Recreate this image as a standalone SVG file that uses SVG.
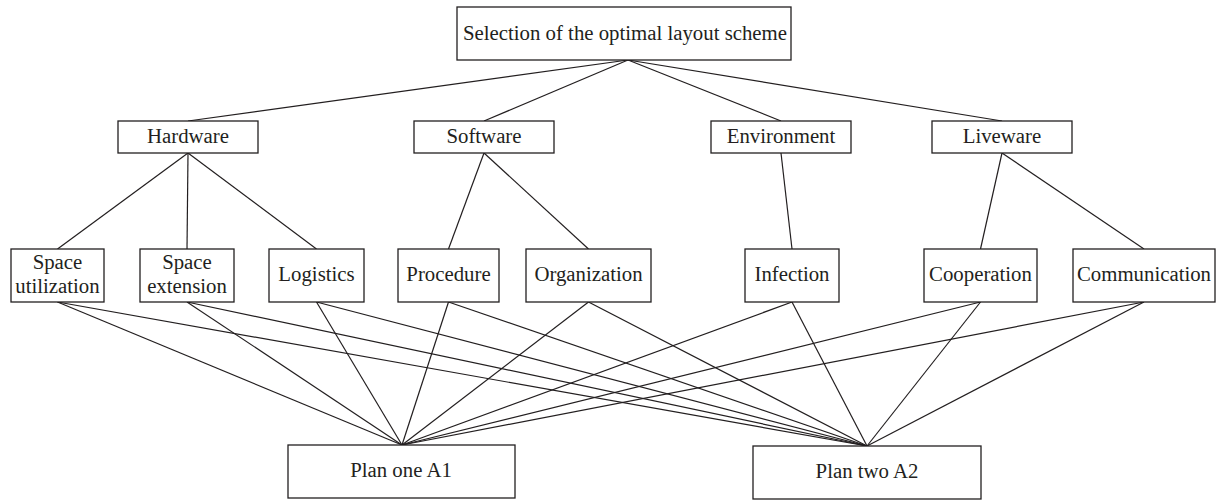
<svg xmlns="http://www.w3.org/2000/svg" width="1216" height="500" viewBox="0 0 1216 500">
<style>
.box{fill:#fff;stroke:#231f20;stroke-width:1.3}
.t{font-family:"Liberation Serif","Times New Roman",serif;font-size:20.8px;fill:#231f20;text-anchor:middle}
.c line{stroke:#231f20;stroke-width:1.2}
</style>
<rect width="1216" height="500" fill="#fff"/>
<g class="c" id="connectors">
<line x1="628" y1="60" x2="188" y2="121"/>
<line x1="628" y1="60" x2="484" y2="121"/>
<line x1="628" y1="60" x2="781" y2="121"/>
<line x1="628" y1="60" x2="1002" y2="121"/>
<line x1="188" y1="153" x2="57.5" y2="249"/>
<line x1="188" y1="153" x2="187" y2="249"/>
<line x1="188" y1="153" x2="316.5" y2="249"/>
<line x1="484" y1="153" x2="448.5" y2="249"/>
<line x1="484" y1="153" x2="588.5" y2="249"/>
<line x1="781" y1="153" x2="792" y2="249"/>
<line x1="1002" y1="153" x2="980.5" y2="249"/>
<line x1="1002" y1="153" x2="1144" y2="249"/>
<line x1="57.5" y1="302" x2="402" y2="445"/>
<line x1="57.5" y1="302" x2="867" y2="446"/>
<line x1="187" y1="302" x2="402" y2="445"/>
<line x1="187" y1="302" x2="867" y2="446"/>
<line x1="316.5" y1="302" x2="402" y2="445"/>
<line x1="316.5" y1="302" x2="867" y2="446"/>
<line x1="448.5" y1="302" x2="402" y2="445"/>
<line x1="448.5" y1="302" x2="867" y2="446"/>
<line x1="588.5" y1="302" x2="402" y2="445"/>
<line x1="588.5" y1="302" x2="867" y2="446"/>
<line x1="792" y1="302" x2="402" y2="445"/>
<line x1="792" y1="302" x2="867" y2="446"/>
<line x1="980.5" y1="302" x2="402" y2="445"/>
<line x1="980.5" y1="302" x2="867" y2="446"/>
<line x1="1144" y1="302" x2="402" y2="445"/>
<line x1="1144" y1="302" x2="867" y2="446"/>
</g>
<g id="root"><rect class="box" x="457" y="7" width="334" height="53"/><text class="t" x="625" y="40">Selection of the optimal layout scheme</text></g>
<g id="hardware"><rect class="box" x="118" y="121" width="140" height="32"/><text class="t" x="188" y="143">Hardware</text></g>
<g id="software"><rect class="box" x="414" y="121" width="140" height="32"/><text class="t" x="484" y="143">Software</text></g>
<g id="environment"><rect class="box" x="711" y="121" width="140" height="32"/><text class="t" x="781" y="143">Environment</text></g>
<g id="liveware"><rect class="box" x="932" y="121" width="140" height="32"/><text class="t" x="1002" y="143">Liveware</text></g>
<g id="space-utilization"><rect class="box" x="11" y="249" width="93" height="53"/><text class="t" x="57.5" y="269">Space</text><text class="t" x="57.5" y="293">utilization</text></g>
<g id="space-extension"><rect class="box" x="140" y="249" width="94" height="53"/><text class="t" x="187" y="269">Space</text><text class="t" x="187" y="293">extension</text></g>
<g id="logistics"><rect class="box" x="269" y="249" width="95" height="53"/><text class="t" x="316.5" y="281">Logistics</text></g>
<g id="procedure"><rect class="box" x="398" y="249" width="101" height="53"/><text class="t" x="448.5" y="281">Procedure</text></g>
<g id="organization"><rect class="box" x="526" y="249" width="125" height="53"/><text class="t" x="588.5" y="281">Organization</text></g>
<g id="infection"><rect class="box" x="745" y="249" width="94" height="53"/><text class="t" x="792" y="281">Infection</text></g>
<g id="cooperation"><rect class="box" x="924" y="249" width="113" height="53"/><text class="t" x="980.5" y="281">Cooperation</text></g>
<g id="communication"><rect class="box" x="1073" y="249" width="142" height="53"/><text class="t" x="1144" y="281">Communication</text></g>
<g id="plan-one"><rect class="box" x="288" y="445" width="227" height="53"/><text class="t" x="401" y="477">Plan one A1</text></g>
<g id="plan-two"><rect class="box" x="753" y="446" width="228" height="53"/><text class="t" x="867" y="478">Plan two A2</text></g>
</svg>
